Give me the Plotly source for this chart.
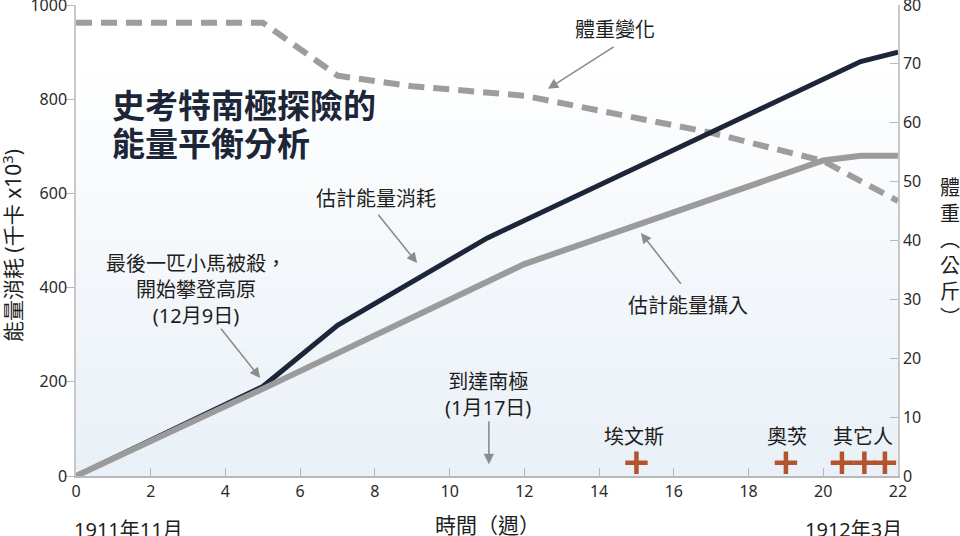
import plotly.graph_objects as go

# ---- data ----
weeks_exp = [0, 5, 7, 11, 17, 21, 22]
energy_expended = [0, 190, 320, 505, 730, 880, 900]

weeks_int = [0, 5, 12, 20, 21, 22]
energy_intake = [0, 185, 450, 670, 680, 680]

weeks_wt = [0, 5, 7, 9, 12, 17, 20, 22]
body_weight = [77, 77, 68, 66.2, 64.6, 58.3, 53.5, 46.7]

death_weeks = [15, 19, 20.5, 21.1, 21.65]
death_marker_level = [28, 28, 28, 28, 28]
death_labels = ["埃文斯", "奧茨", "其它人"]
death_label_weeks = [14.94, 19.02, 21.06]

x_ticks = [0, 2, 4, 6, 8, 10, 12, 14, 16, 18, 20, 22]
y_left_ticks = [0, 200, 400, 600, 800, 1000]
y_right_ticks = [0, 10, 20, 30, 40, 50, 60, 70, 80]

FONT = "Noto Sans, Noto Sans CJK TC, sans-serif"
NAVY = "#1c2638"
GREY = "#9b9b9b"
ARROW = "#8c8c8c"
TXT = "#1e1e1e"

fig = go.Figure()

# weight on primary (right) axis -> drawn beneath energy traces
fig.add_trace(go.Scatter(x=weeks_wt, y=body_weight, mode="lines", yaxis="y",
                         line=dict(color="#9d9d9d", width=6, dash="16px,9px"),
                         showlegend=False, hoverinfo="skip"))
fig.add_trace(go.Scatter(x=weeks_exp, y=energy_expended, mode="lines", yaxis="y2",
                         line=dict(color=NAVY, width=5),
                         showlegend=False, hoverinfo="skip"))
fig.add_trace(go.Scatter(x=weeks_int, y=energy_intake, mode="lines", yaxis="y2",
                         line=dict(color=GREY, width=6),
                         showlegend=False, hoverinfo="skip"))
fig.add_trace(go.Scatter(x=death_weeks, y=death_marker_level, mode="markers", yaxis="y2",
                         marker=dict(symbol="cross-thin", size=16,
                                     line=dict(color="#b4542f", width=4.5)),
                         showlegend=False, hoverinfo="skip"))

# background gradient (white top -> pale blue bottom)
n = 40
top = (255, 255, 255)
bot = (233, 240, 247)
shapes = []
for i in range(n):
    t = i / (n - 1)
    w = max(0.0, min(1.0, (t - 0.1) / 0.9))
    c = tuple(int(round(top[k] + (bot[k] - top[k]) * w)) for k in range(3))
    y1 = 1 - i / n
    y0 = 1 - (i + 1) / n
    shapes.append(dict(type="rect", xref="x domain", yref="y domain",
                       x0=0, x1=1, y0=y0, y1=y1, layer="below",
                       line=dict(width=0), fillcolor="rgb(%d,%d,%d)" % c))

ann = []
# title (two lines)
ann.append(dict(x=0.91, y=786, xref="x", yref="y2", xanchor="left", yanchor="middle",
                text="<b>史考特南極探險的</b>", showarrow=False,
                font=dict(family=FONT, size=33, color=NAVY)))
ann.append(dict(x=0.91, y=707, xref="x", yref="y2", xanchor="left", yanchor="middle",
                text="<b>能量平衡分析</b>", showarrow=False,
                font=dict(family=FONT, size=33, color=NAVY)))


def label(x, y, text, size=20):
    ann.append(dict(x=x, y=y, xref="x", yref="y2", text=text, showarrow=False,
                    xanchor="center", yanchor="middle",
                    font=dict(family=FONT, size=size, color=TXT), align="center"))


def arrow(x0, y0, x1, y1):
    ann.append(dict(x=x1, y=y1, ax=x0, ay=y0, xref="x", yref="y2", axref="x", ayref="y2",
                    text="", showarrow=True, arrowhead=2, arrowsize=1.3, arrowwidth=1.6,
                    arrowcolor=ARROW))


label(8.03, 590, "估計能量消耗")
arrow(8.06, 558, 9.13, 452)
label(14.43, 947, "體重變化")
arrow(14.43, 913, 12.63, 822)
label(3.22, 395, "最後一匹小馬被殺，<br>開始攀登高原<br>(12月9日)")
arrow(3.85, 316, 4.93, 208)
label(11.03, 174, "到達南極<br>(1月17日)")
arrow(11.05, 119, 11.05, 25)
label(16.38, 363, "估計能量攝入")
arrow(16.22, 405, 15.12, 516)
for xw, t in zip(death_label_weeks, death_labels):
    label(xw, 83, t)

# axis titles
ann.append(dict(x=-0.078, y=0.49, xref="paper", yref="paper", textangle=-90,
                xanchor="center", yanchor="middle",
                text="能量消耗 (千卡 x10<sup>3</sup>)", showarrow=False,
                font=dict(family=FONT, size=21, color=TXT)))
ann.append(dict(x=1.0633, y=0.475, xref="paper", yref="paper",
                xanchor="center", yanchor="middle",
                text="體<br>重<br>︵<br>公<br>斤<br>︶", showarrow=False,
                font=dict(family=FONT, size=20, color=TXT)))
ann.append(dict(x=11, y=-0.103, xref="x", yref="paper", text="時間（週）",
                xanchor="center", yanchor="middle",
                showarrow=False, font=dict(family=FONT, size=21, color=TXT)))
ann.append(dict(x=1.4, y=-0.113, xref="x", yref="paper", text="1911年11月",
                xanchor="center", yanchor="middle",
                showarrow=False, font=dict(family=FONT, size=20, color=TXT)))
ann.append(dict(x=20.8, y=-0.113, xref="x", yref="paper", text="1912年3月",
                xanchor="center", yanchor="middle",
                showarrow=False, font=dict(family=FONT, size=20, color=TXT)))

tickfont = dict(size=16, color="#2a2a2a")
fig.update_layout(
    width=960, height=536,
    margin=dict(l=76, r=62, t=5, b=60, autoexpand=False),
    paper_bgcolor="white", plot_bgcolor="white",
    font=dict(family=FONT, color=TXT),
    shapes=shapes, annotations=ann,
    xaxis=dict(range=[0, 22], tickvals=x_ticks, ticks="inside", ticklen=8,
               tickcolor="#b8b8b8", showline=True, linecolor="#b8b8b8", linewidth=1.5,
               showgrid=False, zeroline=False, tickfont=tickfont,
               ticklabeloverflow="allow", automargin=False),
    yaxis=dict(range=[0, 80], side="right", tickvals=y_right_ticks, ticks="inside",
               ticklen=8, tickcolor="#b8b8b8", showline=True, linecolor="#c8c8c8",
               linewidth=1.5, showgrid=False, zeroline=False, tickfont=tickfont,
               ticklabeloverflow="allow", automargin=False),
    yaxis2=dict(range=[0, 1000], side="left", overlaying="y", tickvals=y_left_ticks,
                ticks="outside", ticklen=8, tickcolor="#b8b8b8", showline=True,
                linecolor="#c8c8c8", linewidth=1.5, showgrid=False, zeroline=False,
                tickfont=tickfont, ticklabeloverflow="allow", automargin=False,
                ticklabelstandoff=-4),
)

fig.write_html("out.html", config={"displayModeBar": False},
               post_script="document.body.style.margin='0';document.body.style.overflow='hidden';")
